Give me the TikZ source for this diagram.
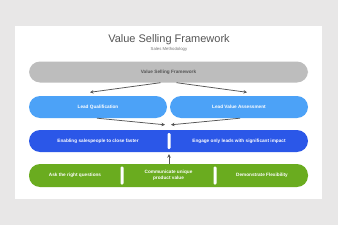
\documentclass[tikz,border=0pt]{standalone}
\usepackage{fontspec}
\setmainfont{Liberation Sans}
\usetikzlibrary{positioning, arrows.meta}

\definecolor{pagebg}{HTML}{E8E7E7}
\definecolor{barGray}{HTML}{BDBDBD}
\definecolor{barLight}{HTML}{4CA2F7}
\definecolor{barDark}{HTML}{2B57E8}
\definecolor{barGreen}{HTML}{6AAC1F}
\definecolor{inkGray}{HTML}{555555}

\begin{document}
\begin{tikzpicture}[
  x=1pt, y=-1pt,
  font=\fontsize{4.7}{5.7}\selectfont\bfseries,
  bar/.style={rounded corners=11pt, align=center, text=white, minimum height=22pt, inner sep=0pt},
  half/.style={bar, fill=barLight, minimum width=138pt},
  wide/.style={bar, minimum width=279pt},
  divider/.style={fill=white, rounded corners=1.2pt, minimum width=3pt, inner sep=0pt},
  link/.style={-{Stealth[length=3.5pt, width=3.5pt]}, inkGray, line width=0.75pt}
]

% --- Fundo e painel ---
\fill[pagebg] (0,0) rectangle (338,225);
\useasboundingbox (0,0) rectangle (338,225);
\fill[white] (15,26) rectangle (322,199);

% --- Titulo ---
\node[font=\fontsize{11}{13}\selectfont, text=inkGray] (title) at (169,40) {Value Selling Framework};
\node[font=\fontsize{4.3}{5}\selectfont, text=inkGray!80] (subtitle) at (169,49.5) {Sales Methodology};

% --- Barras ---
\node[wide, fill=barGray, text=inkGray, minimum height=21pt] (frame) at (168.5,72) {Value Selling Framework};
\node[half] (qual) at (98,107) {Lead Qualification};
\node[half] (assess) at (239,107) {Lead Value Assessment};
\node[wide, fill=barDark] (impact) at (168.5,141) {};
\node[wide, fill=barGreen, minimum height=23pt] (skills) at (168.5,175.5) {};

% --- Textos das barras ---
\node[text=white] (faster) at (98,141) {Enabling salespeople to close faster};
\node[text=white] (engage) at (239,141) {Engage only leads with significant impact};
\node[text=white] (ask) at (75,175.5) {Ask the right questions};
\node[text=white, align=center] (value) at (168.5,175.5) {Communicate unique\\product value};
\node[text=white] (flex) at (262,175.5) {Demonstrate Flexibility};

% --- Divisores ---
\node[divider, minimum height=16pt] (divA) at (169,141) {};
\node[divider, minimum height=18pt] (divB) at (122,175.5) {};
\node[divider, minimum height=18pt] (divC) at (215,175.5) {};

% --- Conexoes ---
\draw[link] ([xshift=-8pt]frame.south) -- ([xshift=-8pt, yshift=3.5pt]qual.north);
\draw[link] ([xshift=8pt]frame.south) -- ([xshift=8pt, yshift=3.5pt]assess.north);
\draw[link] ([xshift=-1pt]qual.south) -- ([xshift=-3.5pt, yshift=5pt]impact.north);
\draw[link] ([xshift=1pt]assess.south) -- ([xshift=2.5pt, yshift=5pt]impact.north);
\draw[link] ([xshift=0.5pt]skills.north) -- ([xshift=0.5pt, yshift=-2pt]impact.south);

\end{tikzpicture}
\end{document}
